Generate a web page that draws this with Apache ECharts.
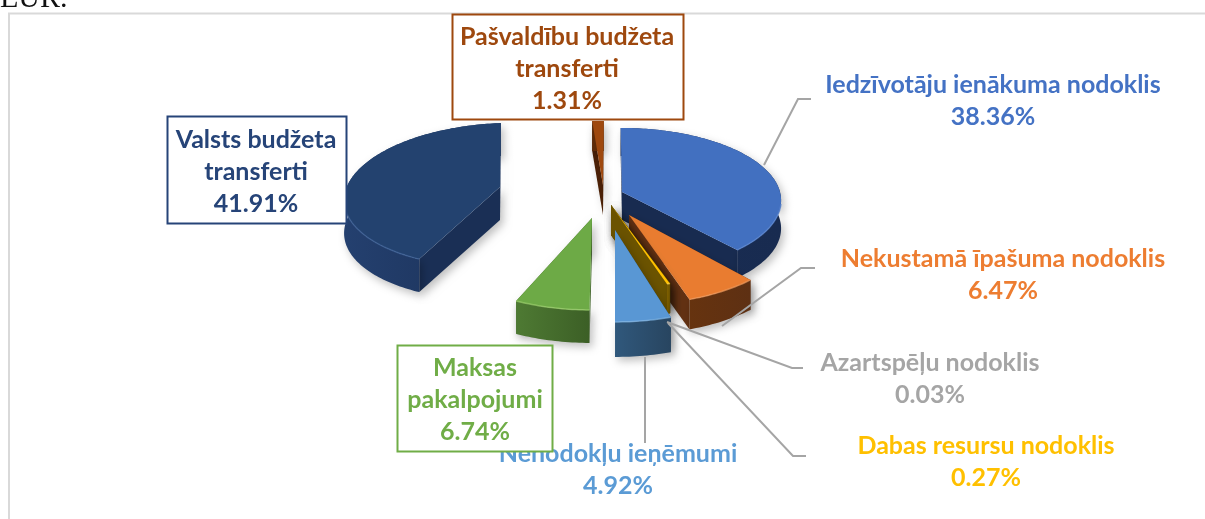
<!DOCTYPE html>
<html><head><meta charset="utf-8">
<style>html,body{margin:0;padding:0;background:#fff}#c{width:1205px;height:519px}</style>
<script src="https://cdn.jsdelivr.net/npm/echarts@6/dist/echarts.min.js"></script>
</head><body><div id="c"></div>
<script>
// ---- data ----
const categories = ['Iedzīvotāju ienākuma nodoklis','Nekustamā īpašuma nodoklis','Azartspēļu nodoklis','Dabas resursu nodoklis','Nenodokļu ieņēmumi','Maksas pakalpojumi','Valsts budžeta transferti','Pašvaldību budžeta transferti'];
const values = [38.36, 6.47, 0.03, 0.27, 4.92, 6.74, 41.91, 1.31];
// ---- style: per-slice placement of the exploded 3D pie ----
const drawOrder = [7, 6, 0, 1, 2, 3, 4, 5];
const apexX  = [622, 629, 611, 611, 615, 592, 500, 603];
const apexY  = [192, 215, 205, 205, 230, 218, 187, 185];
const scaleX = [1, 1.05, 1.06, 1.06, 1.05, 1.03, 0.97, 1];
const scaleY = [1, 1.12, 1.04, 1.04, 1.15, 1.15, 1, 1];
const depth  = [28, 30, 30, 30, 35, 33, 33, 30];
const topColor   = ['#4270C0','#E97C30','#7F6000','#FFC000','#5997D4','#6DAA46','#23426F','#9E480E'];
const wallLeft   = ['#1A2D53','#66330F','#7F6000','#7F6000','#30587C','#4E7A33','#24406F','#5E2B08'];
const wallRight  = ['#182B50','#5E3013','#6F5500','#6F5500','#284560','#3C5F26','#1B3158','#5E2B08'];
const radialWall = ['#182B50','#623112','#6B5300','#6B5300','#2E4F70','#3F6328','#1A2F55','#4A2006'];
const rimLight   = ['#5A86D2','#F09A5C','#7F6000','#FFD34D','#7FB3E2','#9CD06E','#3E6299','#C0652A'];
const labelColor = ['#4472C4','#ED7D31','#A5A5A5','#FFC000','#5B9BD5','#70AD47','#264478','#9E480E'];
const labelLines = [
  ['Iedzīvotāju ienākuma nodoklis'],['Nekustamā īpašuma nodoklis'],['Azartspēļu nodoklis'],['Dabas resursu nodoklis'],
  ['Nenodokļu ieņēmumi'],['Maksas','pakalpojumi'],['Valsts budžeta','transferti'],['Pašvaldību budžeta','transferti']];
const labelX = [993, 1003, 930, 986, 618, 475, 256, 567];
const labelY = [85, 259, 363, 446, 454, 368, 140, 37];
const labelBox = {5:[397.5,345.5,155,106], 6:[167.5,116.5,179,107], 7:[452.5,14.5,231,105]};
const leaders = [
  [[764,165],[798,99],[811,99]],
  [[722,326],[801,268],[815,268]],
  [[667,322],[792,368],[803,368]],
  [[668,323],[793,456],[806,456]],
  [[645,357],[645,443]]];

const CX = 610, RX = 158, RY = 72, P = 0.11;
const FONT = 'bold 25px Lato, Carlito, sans-serif';
const total = values.reduce((a,b)=>a+b,0);
const starts = []; values.reduce((acc,v,i)=>{starts[i]=acc;return acc+v;},0);

function rimPoint(i, th){
  const u=Math.sin(th), v=-Math.cos(th), s=1+P*v;
  const ox=apexX[i]-CX;
  return [CX+(ox+RX*scaleX[i]*u)*s, apexY[i]+RY*scaleY[i]*v*s];
}
function grad(a,b){return {type:'linear',x:0,y:0,x2:1,y2:0,colorStops:[{offset:0,color:a},{offset:1,color:b}]};}
const shadow={shadowBlur:9,shadowColor:'rgba(0,0,0,0.25)',shadowOffsetX:3,shadowOffsetY:4};

function renderSlice(params, api){
  const i=api.value(2), a0=api.value(0)/total*2*Math.PI, a1=(api.value(0)+api.value(1))/total*2*Math.PI;
  const n=Math.max(2,Math.ceil((a1-a0)/0.02));
  const arc=[]; for(let k=0;k<=n;k++) arc.push(rimPoint(i,a0+(a1-a0)*k/n));
  const d=depth[i], A=[apexX[i],apexY[i]];
  const down=p=>[p[0],p[1]+d];
  const kids=[];
  const wall=(pts,fill,sh)=>kids.push({type:'polygon',shape:{points:pts},style:Object.assign({fill:fill},sh||{})});
  wall([A,arc[0],down(arc[0]),down(A)],radialWall[i],shadow);
  wall([A,arc[n],down(arc[n]),down(A)],radialWall[i],shadow);
  wall(arc.concat(arc.slice().reverse().map(down)),grad(wallLeft[i],wallRight[i]),shadow);
  wall([A].concat(arc),topColor[i]);
  const front=[]; for(let k=0;k<=n;k++){const th=a0+(a1-a0)*k/n; if(-Math.cos(th)>0.15) front.push(arc[k]);}
  if(front.length>1) kids.push({type:'polyline',shape:{points:front},style:{fill:'none',stroke:rimLight[i],lineWidth:1.5,opacity:0.7}});
  return {type:'group',children:kids};
}

const graphics=[];
graphics.push({type:'polyline',z:1,shape:{points:[[9,519],[9,13.5],[1205,13.5]]},style:{fill:'none',stroke:'#D9D9D9',lineWidth:2}});
graphics.push({type:'text',z:1,style:{text:'EUR.',x:0,y:14,fill:'#111',font:'30px "Liberation Serif", serif',align:'left',verticalAlign:'bottom'}});
leaders.forEach(pts=>graphics.push({type:'polyline',z:5,shape:{points:pts},style:{fill:'none',stroke:'#A5A5A5',lineWidth:2}}));
[4,0,1,2,3,6,7,5].forEach(i=>{
  const b=labelBox[i];
  if(b) graphics.push({type:'rect',z:6,shape:{x:b[0],y:b[1],width:b[2],height:b[3]},style:{fill:'#fff',stroke:labelColor[i],lineWidth:2}});
  const lines=labelLines[i].concat([values[i].toFixed(2)+'%']);
  lines.forEach((t,k)=>graphics.push({type:'text',z:6,style:{text:t,x:labelX[i],y:labelY[i]+k*32,fill:labelColor[i],font:FONT,align:'center',verticalAlign:'middle'}}));
});

const chart=echarts.init(document.getElementById('c'),null,{renderer:'canvas'});
chart.setOption({
  animation:false,
  backgroundColor:'#fff',
  series:[{type:'custom',coordinateSystem:'none',silent:true,z:2,renderItem:renderSlice,
    data:drawOrder.map(i=>({name:categories[i],value:[starts[i],values[i],i]}))}],
  graphic:{elements:graphics}
});
</script></body></html>
